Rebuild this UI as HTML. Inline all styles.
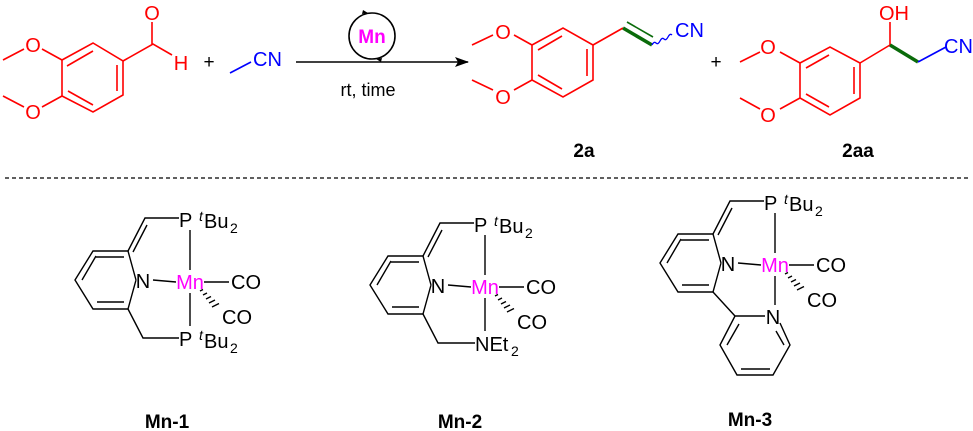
<!DOCTYPE html>
<html><head><meta charset="utf-8"><style>
html,body{margin:0;padding:0;background:#fff;width:973px;height:431px;overflow:hidden}
svg{display:block}
text{font-family:"Liberation Sans",sans-serif}
</style></head><body>
<svg width="973" height="431" viewBox="0 0 973 431" xmlns="http://www.w3.org/2000/svg">
<defs>
<marker id="ah" markerWidth="14" markerHeight="10" refX="13" refY="5" orient="auto" markerUnits="userSpaceOnUse">
<path d="M0,0 L14,5 L0,10 L3,5 Z" fill="#000"/></marker>
</defs>
<!-- Reactant aldehyde -->
<g stroke="#f00" stroke-width="1.6" fill="none">
<path d="M62,60 L93,43 L123,61 L123,95 L93,112 L62,96 Z"/>
<path d="M67,66 L93,51 M117,65 L117,91 M68,91 L93,105"/>
<path d="M62,60 L42,49 M24,49 L3,60 M62,96 L42,107 M24,107 L3,96"/>
<path d="M123,61 L153,44 L172,55 M152,44 L152,22"/>
</g>
<g fill="#f00" font-size="20" text-anchor="middle">
<text x="33" y="52">O</text><text x="33" y="119">O</text>
<text x="152" y="20">O</text><text x="181" y="70">H</text>
</g>
<text x="209" y="68" font-size="19" text-anchor="middle">+</text>
<path d="M230,73 L251,62" stroke="#00f" stroke-width="1.6"/>
<text x="253" y="66" font-size="20" fill="#00f">CN</text>
<!-- arrow -->
<line x1="296" y1="62" x2="468" y2="62" stroke="#000" stroke-width="1.6" marker-end="url(#ah)"/>
<circle cx="372" cy="36" r="23" fill="none" stroke="#000" stroke-width="1.6"/>
<path d="M362,14 l6,-1 l-5,-3 Z M382,58 l-6,1 l5,3 Z" fill="#000"/>
<text x="372" y="43" font-size="19" font-weight="bold" fill="#f0f" text-anchor="middle">Mn</text>
<text x="368" y="96" font-size="18" text-anchor="middle">rt, time</text>
<!-- 2a -->
<g stroke="#f00" stroke-width="1.6" fill="none">
<path d="M532,45 L563,28 L593,45 L593,80 L563,97 L532,80 Z"/>
<path d="M538,50 L562,36 M587,49 L587,76 M538,75 L562,89"/>
<path d="M532,45 L514,35 M493,35 L472,45 M532,80 L514,90 M493,90 L472,80"/>
<path d="M593,45 L623,28"/>
</g>
<path d="M623,28 L652,45" stroke="#0a6b0a" stroke-width="3.5"/>
<path d="M627,22 L653,37" stroke="#0a6b0a" stroke-width="1.6"/>
<path d="M652,45 q2,-4 4,-2 q2,2 4,-2 q2,-4 4,-2 q2,2 4,-2 q2,-4 4,-2" stroke="#00f" stroke-width="1.3" fill="none"/>
<g fill="#f00" font-size="20" text-anchor="middle"><text x="503" y="39">O</text><text x="503" y="104">O</text></g>
<text x="675" y="37" font-size="20" fill="#00f">CN</text>
<text x="716" y="68" font-size="19" text-anchor="middle">+</text>
<!-- 2aa -->
<g stroke="#f00" stroke-width="1.6" fill="none">
<path d="M800,63 L830,47 L860,63 L860,98 L830,115 L800,98 Z"/>
<path d="M806,68 L829,55 M854,67 L854,94 M806,94 L829,107"/>
<path d="M800,63 L780,52 M760,52 L740,62 M800,98 L780,109 M760,109 L740,98"/>
<path d="M860,63 L890,45 L890,22"/>
</g>
<path d="M890,45 L918,62" stroke="#0a6b0a" stroke-width="3.5"/>
<path d="M918,62 L946,47" stroke="#00f" stroke-width="1.6"/>
<g fill="#f00" font-size="20" text-anchor="middle"><text x="768" y="54">O</text><text x="768" y="122">O</text><text x="894" y="20">OH</text></g>
<text x="944" y="53" font-size="20" fill="#00f">CN</text>
<g font-size="19" font-weight="bold" text-anchor="middle"><text x="584" y="157">2a</text><text x="858" y="157">2aa</text></g>
<line x1="5" y1="178" x2="968" y2="178" stroke="#000" stroke-width="1.3" stroke-dasharray="4,3"/>
<!-- Mn-1 -->
<g id="core">
<g stroke="#000" stroke-width="1.4" fill="none">
<path d="M136,280 L128,251 L93,251 L75,280 L93,309 L128,309 L136,280"/>
<path d="M96,257 L124,257 M97,302 L124,302 M82,280 L96,256"/>
<path d="M128,251 L145,218 L179,218 M133,252 L147,225"/>
<path d="M153,280 L176,282 M190,230 L190,270 M204,282 L229,282"/>
<path d="M200,291 l3,-1.5 M203,295 l4,-2 M206,299 l5,-2.5 M209,303 l6,-3 M212,307 l7,-3.5"/>
</g>
<text x="143" y="288" font-size="20" text-anchor="middle">N</text>
<text x="190" y="289" font-size="20" fill="#f0f" text-anchor="middle">Mn</text>
<text x="231" y="289" font-size="20">CO</text>
<text x="222" y="324" font-size="20">CO</text>
<text x="179" y="227" font-size="20">P</text>
<text x="199" y="221" font-size="14" font-style="italic">t</text>
<text x="204" y="228" font-size="20">Bu</text><text x="230" y="233" font-size="14">2</text>
</g>
<g stroke="#000" stroke-width="1.4" fill="none"><path d="M128,309 L143,338 L179,338 M190,293 L190,326"/></g>
<text x="179" y="346" font-size="20">P</text>
<text x="199" y="340" font-size="14" font-style="italic">t</text>
<text x="204" y="348" font-size="20">Bu</text><text x="230" y="353" font-size="14">2</text>
<!-- Mn-2 -->
<use href="#core" transform="translate(295,5)"/>
<g stroke="#000" stroke-width="1.4" fill="none"><path d="M423,314 L438,343 L475,343 M485,298 L485,331"/></g>
<text x="475" y="351" font-size="20">NEt</text><text x="511" y="356" font-size="14">2</text>
<!-- Mn-3 -->
<use href="#core" transform="translate(585,-17)"/>
<g stroke="#000" stroke-width="1.4" fill="none">
<path d="M713,292 L735,316 L765,316 M780,323 L790,345 L773,375 L737,375 L720,345 L735,316"/>
<path d="M776,331 L784,345 M741,369 L770,369 M727,345 L739,324 M775,276 L775,305"/>
</g>
<text x="773" y="324" font-size="20" text-anchor="middle">N</text>
<g font-size="19" font-weight="bold" text-anchor="middle"><text x="167" y="428">Mn-1</text><text x="460" y="428">Mn-2</text><text x="750" y="426">Mn-3</text></g>
</svg>
</body></html>
